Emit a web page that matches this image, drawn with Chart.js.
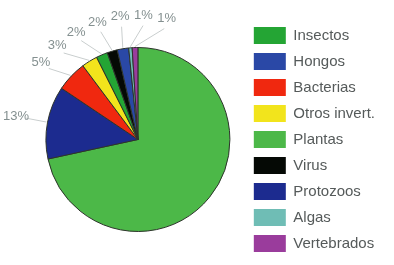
<!DOCTYPE html>
<html>
<head>
<meta charset="utf-8">
<script src="https://cdn.jsdelivr.net/npm/chart.js@4/dist/chart.umd.min.js"></script>
<style>
  html, body { margin: 0; padding: 0; background: #fff; }
  #grafico { width: 394px; height: 265px; }
</style>
</head>
<body>
<div id="grafico"><canvas id="myChart" width="394" height="265"></canvas></div>
<script>
// orden de las porciones (sentido horario desde arriba)
const categorias = ['Plantas', 'Protozoos', 'Bacterias', 'Otros invert.', 'Insectos', 'Virus', 'Hongos', 'Algas', 'Vertebrados'];
const valores = [71.6, 12.8, 5.4, 2.8, 2.0, 1.8, 2.0, 0.6, 1.0];
const colores = ['#4cb848', '#1c2b8f', '#f0280f', '#f2e41c', '#24a534', '#050905', '#2a48a6', '#6fbdb5', '#9a3c9c'];
// orden de la leyenda
const ordenLeyenda = ['Insectos', 'Hongos', 'Bacterias', 'Otros invert.', 'Plantas', 'Virus', 'Protozoos', 'Algas', 'Vertebrados'];

// etiquetas de porcentaje afuera de la torta, con linea guia
const etiquetasTorta = {
    id: 'etiquetasTorta',
    afterDatasetsDraw(chart) {
        const ctx = chart.ctx;
        const arcos = chart.getDatasetMeta(0).data;
        const gap = 10.8 * Math.PI / 180;
        let items = [];
        arcos.forEach((arc, i) => {
            if (valores[i] > 50) return; // la porcion grande no lleva etiqueta
            const mid = (arc.startAngle + arc.endAngle) / 2;
            items.push({ i: i, mid: mid, ang: mid, arc: arc });
        });
        // separar las etiquetas que se pisan
        for (let k = 0; k < 300; k++) {
            let movido = false;
            for (let j = 1; j < items.length; j++) {
                const d = items[j].ang - items[j - 1].ang;
                if (d < gap - 1e-6) {
                    const p = (gap - d) / 2;
                    items[j].ang += p;
                    items[j - 1].ang -= p;
                    movido = true;
                }
            }
            if (!movido) break;
        }
        ctx.save();
        items.forEach(it => {
            const cx = it.arc.x, cy = it.arc.y, r = it.arc.outerRadius;
            ctx.strokeStyle = '#c9cece';
            ctx.lineWidth = 1;
            ctx.beginPath();
            ctx.moveTo(cx + (r + 22) * Math.cos(it.ang), cy + (r + 22) * Math.sin(it.ang));
            ctx.lineTo(cx + (r + 1) * Math.cos(it.mid), cy + (r + 1) * Math.sin(it.mid));
            ctx.stroke();
            ctx.fillStyle = '#849090';
            ctx.font = '13px "Liberation Sans", Arial, sans-serif';
            ctx.textAlign = 'center';
            ctx.textBaseline = 'middle';
            ctx.fillText(Math.round(valores[it.i]) + '%', cx + (r + 32) * Math.cos(it.ang), cy + (r + 32) * Math.sin(it.ang));
        });
        ctx.restore();
    }
};

var ctx = document.getElementById('myChart');

window.grafica = new Chart(ctx, {
    type: 'pie',
    data: {
        labels: categorias,
        datasets: [{
            data: valores,
            backgroundColor: colores,
            borderColor: '#2d332b',
            borderWidth: 1
        }]
    },
    options: {
        responsive: false,
        devicePixelRatio: 1,
        animation: false,
        events: [],
        radius: 92,
        layout: { padding: { top: 14, left: 31, right: 9, bottom: 0 } },
        plugins: {
            tooltip: { enabled: false },
            legend: {
                position: 'right',
                labels: {
                    boxWidth: 32,
                    boxHeight: 17,
                    padding: 9,
                    color: '#555a5a',
                    font: { family: '"Liberation Sans", Arial, sans-serif', size: 15 },
                    generateLabels: (chart) => {
                        const items = Chart.overrides.pie.plugins.legend.labels.generateLabels(chart);
                        items.forEach(it => { it.lineWidth = 0; });
                        return items;
                    },
                    sort: (a, b) => ordenLeyenda.indexOf(a.text) - ordenLeyenda.indexOf(b.text)
                }
            }
        }
    },
    plugins: [etiquetasTorta]
});
</script>
</body>
</html>
